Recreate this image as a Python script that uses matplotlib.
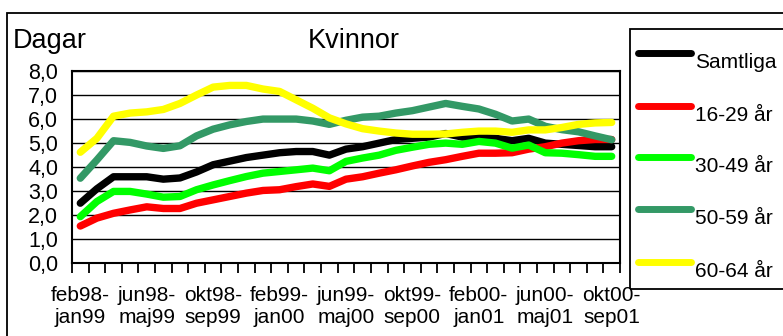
import numpy as np
import matplotlib
matplotlib.use("Agg")
import matplotlib.pyplot as plt
from matplotlib.patches import Rectangle
from matplotlib.lines import Line2D
from matplotlib.ticker import FuncFormatter, MultipleLocator

plt.rcParams['font.family'] = ['Liberation Sans', 'DejaVu Sans']

# rullande 12-månadersperioder, feb98-jan99 ... okt00-sep01
period_labels = ["feb98-\njan99", "jun98-\nmaj99", "okt98-\nsep99", "feb99-\njan00",
                 "jun99-\nmaj00", "okt99-\nsep00", "feb00-\njan01", "jun00-\nmaj01",
                 "okt00-\nsep01"]

samtliga = [2.5, 3.1, 3.6, 3.6, 3.6, 3.5, 3.55, 3.8, 4.1, 4.25, 4.4, 4.5, 4.6, 4.65, 4.65,
            4.5, 4.75, 4.85, 5.0, 5.15, 5.2, 5.25, 5.4, 5.25, 5.25, 5.2, 5.1, 5.2, 5.0,
            4.95, 4.9, 4.85, 4.85]
ar_16_29 = [1.55, 1.88, 2.08, 2.22, 2.35, 2.28, 2.28, 2.5, 2.64, 2.78, 2.92, 3.03, 3.06,
            3.19, 3.3, 3.2, 3.5, 3.6, 3.75, 3.89, 4.05, 4.2, 4.31, 4.45, 4.58, 4.58, 4.6,
            4.75, 4.85, 5.0, 5.1, 5.15, 5.15]
ar_30_49 = [1.94, 2.57, 2.99, 2.99, 2.88, 2.75, 2.78, 3.06, 3.26, 3.44, 3.61, 3.75, 3.82,
            3.89, 3.96, 3.85, 4.24, 4.38, 4.5, 4.7, 4.83, 4.95, 5.0, 4.95, 5.07, 5.0, 4.79,
            4.92, 4.6, 4.58, 4.52, 4.45, 4.45]
ar_50_59 = [3.54, 4.3, 5.1, 5.03, 4.88, 4.78, 4.89, 5.3, 5.58, 5.76, 5.9, 6.0, 6.0, 6.0,
            5.92, 5.78, 5.95, 6.08, 6.12, 6.25, 6.35, 6.5, 6.65, 6.53, 6.42, 6.2, 5.92, 6.0,
            5.7, 5.56, 5.47, 5.3, 5.14]
ar_60_64 = [4.62, 5.2, 6.12, 6.25, 6.3, 6.4, 6.65, 7.0, 7.33, 7.4, 7.4, 7.25, 7.15, 6.8,
            6.45, 6.05, 5.8, 5.6, 5.5, 5.42, 5.37, 5.37, 5.38, 5.45, 5.5, 5.5, 5.45, 5.55,
            5.55, 5.65, 5.78, 5.84, 5.86]

series_names = ["Samtliga", "16-29 år", "30-49 år", "50-59 år", "60-64 år"]
series_values = [samtliga, ar_16_29, ar_30_49, ar_50_59, ar_60_64]
colors = ["#000000", "#ff0000", "#00ff00", "#339966", "#ffff00"]

W, H = 783, 336
fig = plt.figure(figsize=(W / 100, H / 100), dpi=100)


def fx(px):
    return px / W


def fy(py):
    return 1 - py / H


# yttre ram och legendruta (går ut över bildkanten)
fig.patches.append(Rectangle((fx(7), -0.2), 1.5, fy(13) + 0.2, transform=fig.transFigure,
                             fill=False, ec="black", lw=1.3))
fig.patches.append(Rectangle((fx(630), fy(289)), 0.5, (289 - 29) / H, transform=fig.transFigure,
                             fill=False, ec="black", lw=1.3))

ax = fig.add_axes([fx(72), fy(263.3), fx(620) - fx(72), (263.3 - 71) / H])

n = len(samtliga)
x = np.arange(n)
for vals, c in zip(series_values, colors):
    ax.plot(x, vals, color=c, lw=5.3, solid_capstyle="round", solid_joinstyle="round", zorder=3)

ax.set_xlim(-0.5, n - 0.5)
ax.set_ylim(0, 8)
ax.yaxis.set_major_locator(MultipleLocator(1))
ax.yaxis.set_major_formatter(FuncFormatter(lambda v, p: f"{v:.1f}".replace(".", ",")))
ax.grid(axis="y", color="black", lw=1)
ax.set_axisbelow(True)
ax.tick_params(axis="y", length=0, pad=10, labelsize=15.5)

ax.set_xticks(x[::4])
ax.set_xticklabels(period_labels, fontsize=15, linespacing=1.25)
ax.set_xticks(np.arange(n + 1) - 0.5, minor=True)
ax.tick_params(axis="x", which="major", length=0, pad=16)
ax.tick_params(axis="x", which="minor", length=7, width=1.3, direction="out")
for s in ax.spines.values():
    s.set_linewidth(1.5)

fig.text(fx(13), fy(48), "Dagar", fontsize=19.5, va="baseline")
fig.text(fx(308), fy(48), "Kvinnor", fontsize=19.5, va="baseline")

# legend
legend_y = [53, 106, 157, 209, 262]
for name, c, ly in zip(series_names, colors, legend_y):
    fig.lines.append(Line2D([fx(638), fx(691)], [fy(ly), fy(ly)], transform=fig.transFigure,
                            color=c, lw=5, solid_capstyle="round"))
    fig.text(fx(695), fy(ly + 15), name, fontsize=15, va="baseline")

fig.savefig("out.png", dpi=100)
